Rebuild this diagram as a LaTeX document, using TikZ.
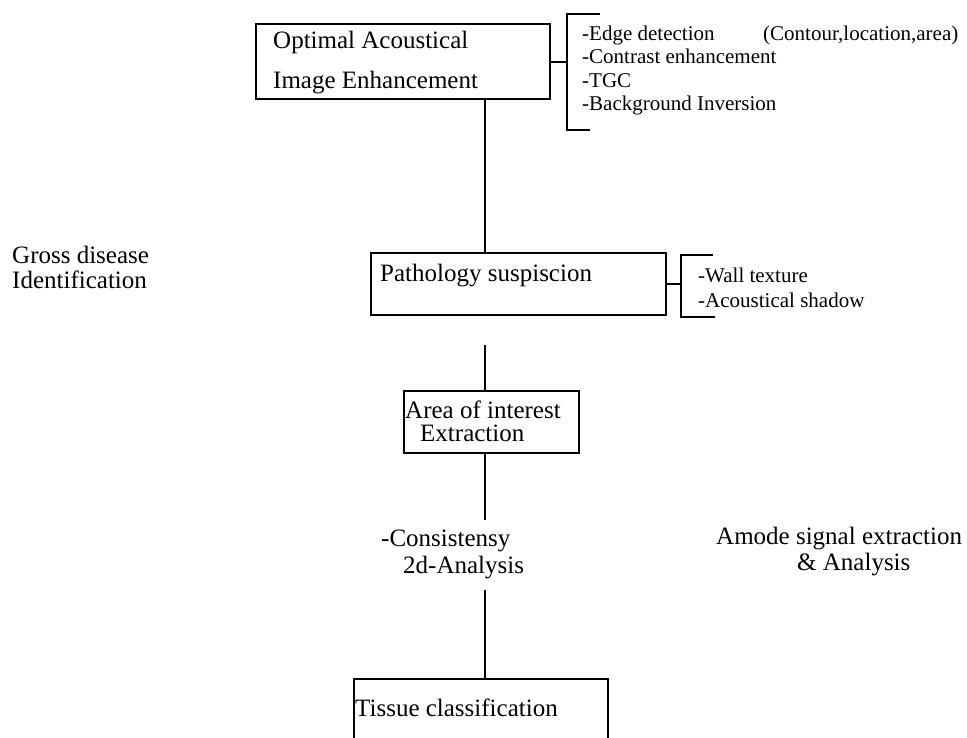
\documentclass[tikz,border=0pt]{standalone}
\usepackage{fontspec}
\setmainfont{Liberation Serif}
\usetikzlibrary{positioning}

\tikzset{
  stage/.style={draw,line width=2.4pt,inner sep=0pt,anchor=north west},
  lbl/.style={anchor=base west,inner sep=0pt,align=left,font=\fontsize{25}{40}\selectfont},
  sub/.style={anchor=base west,inner sep=0pt,align=left,font=\fontsize{21}{23.5}\selectfont},
  wire/.style={line width=2.4pt}
}

\begin{document}
\begin{tikzpicture}[x=1pt,y=-1pt]
\useasboundingbox (0,0) rectangle (967,737);
\clip (0,0) rectangle (967,737);
% stages
\node[stage,minimum width=294pt,minimum height=75pt] (enh) at (255,23) {};
\node[stage,minimum width=295pt,minimum height=62pt] (path) at (370,252) {};
\node[stage,minimum width=175pt,minimum height=62pt] (roi) at (403,390) {};
\node[stage,minimum width=254pt,minimum height=80pt] (tis) at (353,678) {};
% (base anchor of a multi-line node = last line)
\node[lbl] (enhtxt) at (273,88) {Optimal Acoustical\\Image Enhancement};
\node[lbl] (pathtxt) at (380,281) {Pathology suspiscion};
\node[lbl,font=\fontsize{25}{23}\selectfont] (roitxt) at (405,441) {Area of interest\\\hspace*{15pt}Extraction};
\node[lbl] (tistxt) at (355,716) {Tissue classification};
% side texts
\node[lbl,font=\fontsize{25}{25}\selectfont] (gross) at (12,288) {Gross disease\\Identification};
\node[lbl,font=\fontsize{25}{27}\selectfont] (cons) at (381,573) {-Consistensy\\\hspace*{22pt}2d-Analysis};
\node[lbl,font=\fontsize{25}{26}\selectfont] (amode) at (716,570) {Amode signal extraction\\\hspace*{81pt}\& Analysis};
% lists
\node[sub] (enhlist) at (582,110.5) {-Edge detection\\-Contrast enhancement\\-TGC\\-Background Inversion};
\node[sub] (enhnote) at (763,40) {(Contour,location,area)};
\node[sub,font=\fontsize{21}{25}\selectfont] (pathlist) at (698,307) {-Wall texture\\-Acoustical shadow};
% brackets
\coordinate (b1) at (567,62);
\coordinate (b2) at (681,283);
\draw[wire] (enh.east) -- (enh.east -| b1);
\draw[wire] (600,14) -- (567,14) -- (567,130) -- (590,130);
\draw[wire] (path.east) -- (path.east -| b2);
\draw[wire] (713,255) -- (681,255) -- (681,317) -- (715,317);
% spine
\coordinate (sp) at (485,0);
\coordinate (gap) at (485,345);
\coordinate (c1) at (485,520);
\coordinate (c2) at (485,590);
\draw[wire] (enh.south -| sp) -- (path.north -| sp);
\draw[wire] (gap) -- (roi.north -| gap);
\draw[wire] (roi.south -| sp) -- (c1);
\draw[wire] (c2) -- (tis.north -| sp);
\end{tikzpicture}
\end{document}
